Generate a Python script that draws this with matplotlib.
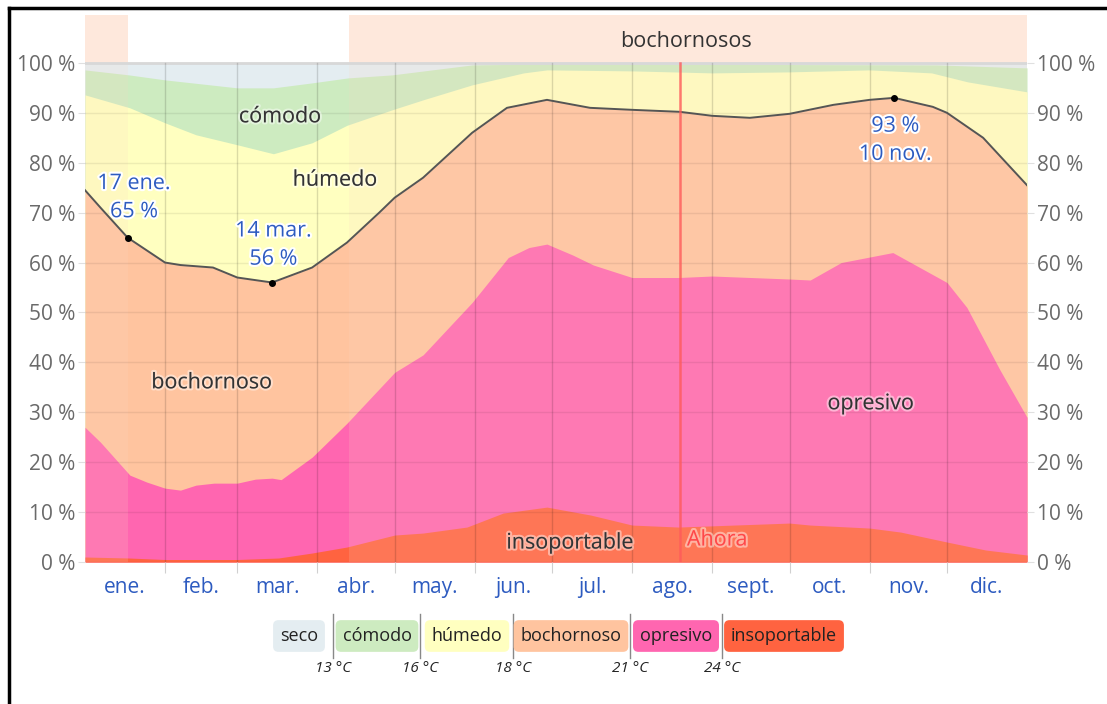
import numpy as np
import matplotlib.pyplot as plt
import matplotlib.patheffects as pe

plt.rcParams['font.family'] = ['Open Sans', 'DejaVu Sans']

# month labels and boundaries (day of year)
months = ['ene.', 'feb.', 'mar.', 'abr.', 'may.', 'jun.', 'jul.', 'ago.', 'sept.', 'oct.', 'nov.', 'dic.']
month_starts = [0, 31, 59, 90, 120, 151, 181, 212, 243, 273, 304, 334, 365]

# top of each band, % of time
days_ins = [0, 17, 31, 59, 75, 88, 101.5, 120, 131, 148, 162, 179, 196, 212, 230, 273, 281, 304, 316, 334, 349, 365]
insoportable = [1.0, 0.8, 0.5, 0.5, 0.8, 1.8, 3.0, 5.4, 5.8, 7.0, 9.8, 11.0, 9.4, 7.4, 7.0, 7.8, 7.4, 6.8, 6.0, 4.0, 2.4, 1.4]

days_opr = [0, 6, 17.4, 24, 31, 37, 43, 50, 59, 66, 72.5, 76, 88, 101.5, 120, 131, 150, 164, 172, 179, 189, 197, 212, 230, 243, 273, 281, 293, 313, 334, 341.7, 354.5, 365]
opresivo = [27, 24, 17.4, 16, 14.8, 14.4, 15.4, 15.8, 15.8, 16.6, 16.8, 16.5, 21, 27.8, 38, 41.5, 52, 61, 63, 63.7, 61.5, 59.5, 57, 57, 57.3, 56.7, 56.5, 60, 62, 56, 51, 38.5, 29]

days_mug = [0, 6, 16.5, 31, 37, 49.6, 59, 72.5, 88, 101.5, 114, 120, 131, 150, 163.5, 179, 195.7, 212, 230.5, 243, 257.6, 273, 290, 304, 313.5, 328.5, 334, 348, 365]
bochornoso = [74.5, 71, 65, 60, 59.5, 59, 57, 56, 59, 64, 70, 73, 77, 86, 91, 92.6, 91, 90.6, 90.2, 89.4, 89, 89.8, 91.6, 92.6, 93, 91.2, 90, 85, 75.5]

days_hum = [0, 17.4, 31, 43, 59, 73, 88, 101.5, 119, 131, 150, 170, 179, 212, 243, 273, 304, 328, 342, 365]
humedo = [93.6, 91, 88, 85.6, 83.6, 81.8, 84, 87.5, 90.6, 92.6, 95.6, 98, 98.6, 98.4, 98, 98.2, 98.6, 98, 96.2, 94.2]

days_com = [0, 17, 31, 59, 73, 88, 102, 119, 150, 180, 330, 365]
comodo = [98.6, 97.6, 96.6, 95, 95, 96, 97, 97.6, 99.6, 99.8, 99.6, 99]

muggy_periods = [(0, 16.7), (102.3, 365)]
now_day = 230.5

legend_names = ['seco', 'cómodo', 'húmedo', 'bochornoso', 'opresivo', 'insoportable']
legend_temps = ['13 °C', '16 °C', '18 °C', '21 °C', '24 °C']

colors = {'seco': '#E4EDF1', 'cómodo': '#CDEBC0', 'húmedo': '#FFFFC0',
          'bochornoso': '#FFC49F', 'opresivo': '#FF66B0', 'insoportable': '#FF6340'}

YTOP = 109.6
fig = plt.figure(figsize=(11.07, 7.04), dpi=100)
ax = fig.add_axes([85 / 1107, 1 - 562 / 704, 942 / 1107, 547 / 704])
ax.set_xlim(0, 365)
ax.set_ylim(0, YTOP)

# stacked bands, painted from the top layer down
ax.fill_between([0, 365], 0, 100, color=colors['seco'], lw=0)
ax.fill_between(days_com, 0, comodo, color=colors['cómodo'], lw=0)
ax.fill_between(days_hum, 0, humedo, color=colors['húmedo'], lw=0)
ax.fill_between(days_mug, 0, bochornoso, color=colors['bochornoso'], lw=0)
ax.fill_between(days_opr, 0, opresivo, color=colors['opresivo'], lw=0)
ax.fill_between(days_ins, 0, insoportable, color=colors['insoportable'], lw=0)

# muggy period tint + band on top
for a, b in muggy_periods:
    ax.fill_between([a, b], 0, 100, color='#FBD9C4', alpha=0.17, lw=0)
    ax.fill_between([a, b], 100, YTOP, color='#FEE8DC', lw=0)

ax.plot(days_mug, bochornoso, color='#555555', lw=1.4, zorder=4)

# grid
for y in range(0, 101, 10):
    ax.axhline(y, color='#000000', alpha=0.07, lw=1, zorder=3)
ax.axhline(100, color='#D8D8D8', lw=2, zorder=3)
for d in month_starts[1:-1]:
    ax.plot([d, d], [0, 100], color='#000000', alpha=0.14, lw=1, zorder=3)

ax.axvline(now_day, ymax=100 / YTOP, color='#FF5A5A', lw=1.8, alpha=0.8, zorder=5)

for s in ax.spines.values():
    s.set_visible(False)

ax.set_yticks(range(0, 101, 10))
ax.set_yticklabels([f'{v} %' for v in range(0, 101, 10)])
ax.tick_params(axis='y', labelleft=True, labelright=True, left=True, right=True,
               length=5, color='#E0E0E0', labelsize=15, labelcolor='#6A6A6A', pad=2)
ax.set_xticks(month_starts[1:-1])
ax.set_xticklabels([])
ax.tick_params(axis='x', which='major', length=8, color='#D0D0D0', direction='out')
mids = [(month_starts[i] + month_starts[i + 1]) / 2 for i in range(12)]
ax.set_xticks(mids, minor=True)
ax.set_xticklabels(months, minor=True)
ax.tick_params(axis='x', which='minor', length=0, labelsize=15, labelcolor='#2D5BC0', pad=11)

halo = [pe.withStroke(linewidth=3, foreground='white')]
halo_soft = [pe.withStroke(linewidth=3, foreground=(1, 1, 1, 0.45))]

ax.text(75.6, 89.2, 'cómodo', fontsize=15.5, color='#333333', ha='center', va='center', zorder=6, path_effects=halo_soft)
ax.text(96.9, 76.5, 'húmedo', fontsize=15.5, color='#333333', ha='center', va='center', zorder=6, path_effects=halo_soft)
ax.text(49.2, 35.9, 'bochornoso', fontsize=15.5, color='#333333', ha='center', va='center', zorder=6, path_effects=halo_soft)
ax.text(304.5, 31.7, 'opresivo', fontsize=15.5, color='#333333', ha='center', va='center', zorder=6, path_effects=halo_soft)
ax.text(188, 3.8, 'insoportable', fontsize=15.5, color='#333333', ha='center', va='center', zorder=6, path_effects=halo_soft)
ax.text(245, 4.4, 'Ahora', fontsize=15.5, color='#FF4848', ha='center', va='center', zorder=6, path_effects=halo_soft)
ax.text(233, 104.2, 'bochornosos', fontsize=15.5, color='#333333', ha='center', va='center', zorder=6)

# extremes
ax.plot([16.5, 72.5, 313.5], [65, 56, 93], 'o', color='black', ms=4, zorder=6)
ax.text(19, 73, '17 ene.\n65 %', fontsize=15.5, color='#2D5BC0', ha='center', va='center',
        linespacing=1.45, zorder=6, path_effects=halo)
ax.text(73, 63.5, '14 mar.\n56 %', fontsize=15.5, color='#2D5BC0', ha='center', va='center',
        linespacing=1.45, zorder=6, path_effects=halo)
ax.text(314, 84.5, '93 %\n10 nov.', fontsize=15.5, color='#2D5BC0', ha='center', va='center',
        linespacing=1.45, zorder=6, path_effects=halo)

# legend below the chart
leg_x = [299, 377, 467, 571, 676, 784]
seps = [333, 420, 513, 630, 722]
for name, x in zip(legend_names, leg_x):
    fig.text(x / 1107, 1 - 636 / 704, name, fontsize=13, color='#222222', ha='center', va='center',
             bbox=dict(boxstyle='round,pad=0.38,rounding_size=0.3', fc=colors[name], ec='none'))
for x, t in zip(seps, legend_temps):
    fig.add_artist(plt.Line2D([x / 1107, x / 1107], [1 - 614 / 704, 1 - 658 / 704], color='#888888', lw=1))
    fig.text(x / 1107, 1 - 668 / 704, t, fontsize=11, style='italic', color='#222222', ha='center', va='center')

# frame of the screenshot
fig.add_artist(plt.Line2D([9 / 1107, 9 / 1107], [0, 1 - 8 / 704], color='black', lw=2.5))
fig.add_artist(plt.Line2D([9 / 1107, 1], [1 - 8 / 704, 1 - 8 / 704], color='black', lw=2.5))

fig.savefig('out.png', dpi=100)
